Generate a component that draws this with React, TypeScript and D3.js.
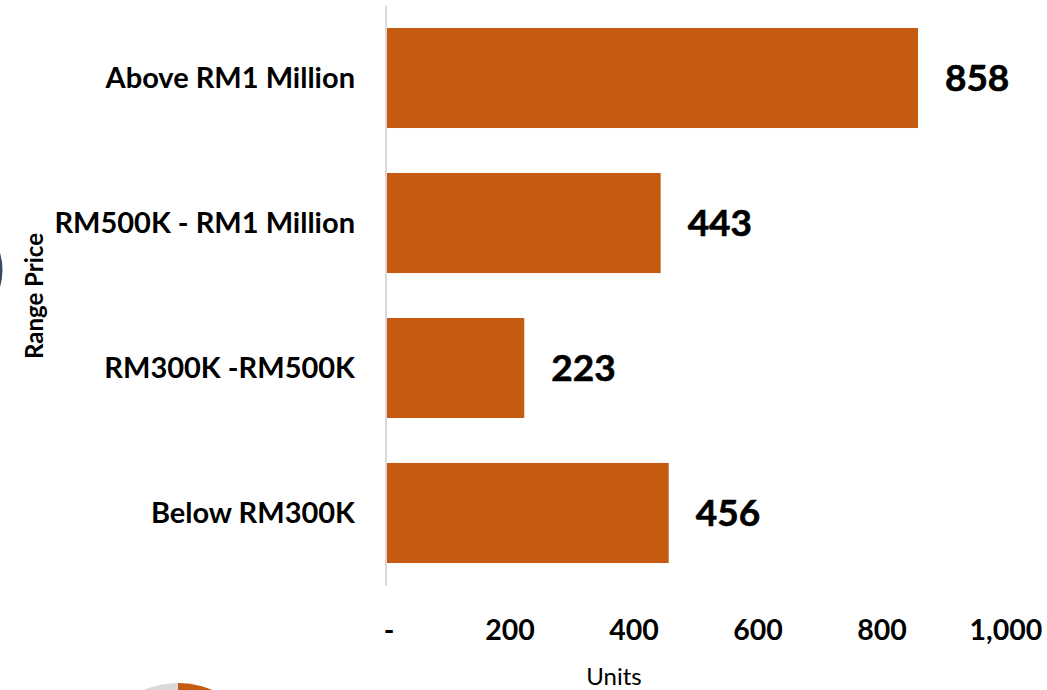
import React from "react";
import * as d3 from "d3";

const categories = ["Above RM1 Million", "RM500K - RM1 Million", "RM300K -RM500K", "Below RM300K"];
const units = [858, 443, 223, 456];
const xTicks = [0, 200, 400, 600, 800, 1000];
const xTitle = "Units";
const yTitle = "Range Price";

const W = 1047;
const H = 690;
const FONT = "Lato, 'Open Sans', sans-serif";

export default function App() {
  const x = d3.scaleLinear().domain([0, 1000]).range([386, 1006]);
  const y = d3
    .scaleBand<string>()
    .domain(categories)
    .range([5.5, 585.5])
    .paddingInner(0.31)
    .paddingOuter(0.155);
  const fmt = (v: number) => (v === 0 ? "-" : d3.format(",")(v));

  return (
    <svg
      width={W}
      height={H}
      style={{ position: "absolute", left: 0, top: 0, background: "#fff" }}
      fontFamily={FONT}
    >
      {/* decorative partial shapes at the edges */}
      <circle cx={-58} cy={270} r={60.5} fill="#3a4766" />
      <circle cx={178} cy={770} r={87} fill="#d9d9d9" />
      <path
        d={d3.arc()({ innerRadius: 60, outerRadius: 87, startAngle: 0, endAngle: Math.PI * 0.7 }) || ""}
        transform="translate(178,770)"
        fill="#C55A11"
      />
      <circle cx={178} cy={770} r={60} fill="#fff" />

      {/* bars */}
      {categories.map((c, i) => (
        <rect
          key={c}
          x={x(0)}
          y={y(c)}
          width={x(units[i]) - x(0)}
          height={y.bandwidth()}
          fill="#C55A11"
        />
      ))}

      {/* axis line */}
      <line x1={386} x2={386} y1={y.range()[0]} y2={y.range()[1]} stroke="#d9d9d9" strokeWidth={2} />

      {/* value labels */}
      {categories.map((c, i) => (
        <text
          key={c}
          x={x(units[i]) + 27}
          y={(y(c) as number) + y.bandwidth() / 2}
          dy="0.36em"
          fontSize={37}
          fontWeight={700}
          fill="#000"
          stroke="#000"
          strokeWidth={0.6}
        >
          {units[i]}
        </text>
      ))}

      {/* category labels */}
      {categories.map((c) => (
        <text
          key={c}
          x={355}
          y={(y(c) as number) + y.bandwidth() / 2}
          dy="0.36em"
          textAnchor="end"
          fontSize={29}
          fontWeight={700}
          fill="#000"
        >
          {c}
        </text>
      ))}

      {/* x tick labels */}
      {xTicks.map((t) => (
        <text
          key={t}
          x={x(t) + (t === 0 ? 3 : 0)}
          y={640}
          textAnchor="middle"
          fontSize={28.5}
          fontWeight={700}
          fill="#000"
        >
          {fmt(t)}
        </text>
      ))}

      {/* axis titles */}
      <text x={614} y={685} textAnchor="middle" fontSize={24} fill="#000">
        {xTitle}
      </text>
      <text
        transform="translate(43,296) rotate(-90)"
        textAnchor="middle"
        fontSize={24}
        fontWeight={700}
        fill="#000"
      >
        {yTitle}
      </text>
    </svg>
  );
}
